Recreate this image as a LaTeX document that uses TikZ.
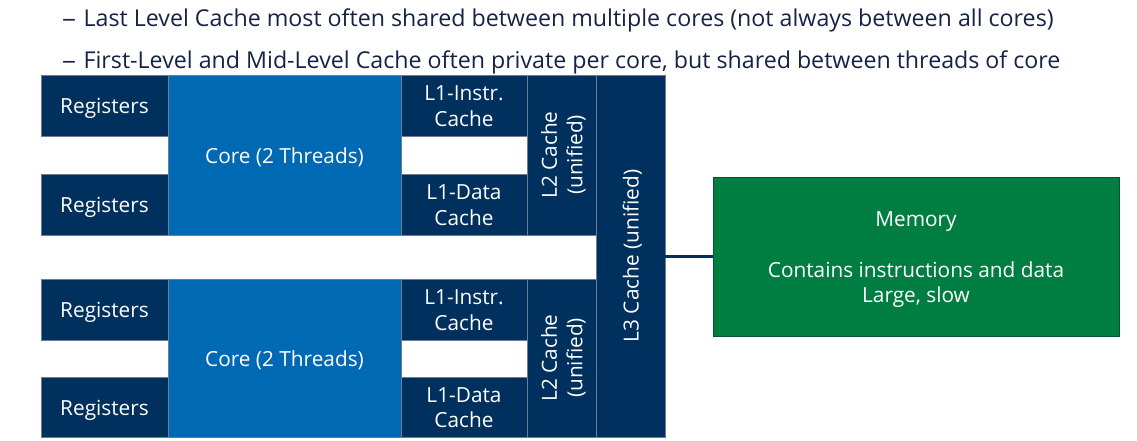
\documentclass[tikz,border=0pt]{standalone}
\usepackage{fontspec}
\setmainfont{Open Sans}
\usepackage{graphicx}
\definecolor{navy}{RGB}{0,48,94}
\definecolor{coreblue}{RGB}{0,105,180}
\definecolor{memgreen}{RGB}{0,125,64}
\definecolor{edge}{RGB}{110,125,150}
\definecolor{toptext}{RGB}{20,35,70}
\newcommand{\boxfont}{\fontsize{20.8}{25.5}\selectfont}
\newcommand{\btxt}[1]{\raisebox{-3pt}[\height][\depth]{\begin{tabular}{@{}c@{}}#1\end{tabular}}}
\begin{document}
\begin{tikzpicture}[x=1pt,y=-1pt,
  blk/.style={draw=edge, line width=0.8pt, inner sep=0pt, outer sep=0pt,
    anchor=north west, text=white, align=center, font=\boxfont},
  darkblk/.style={blk, fill=navy},
  coreblk/.style={blk, fill=coreblue},
  memblk/.style={blk, fill=memgreen, draw=memgreen!70!black},
  bullet/.style={anchor=base west, inner sep=0pt, text=toptext, font=\fontsize{23.2}{28}\selectfont}]
\useasboundingbox (0,0) rectangle (1137,440);
\node[bullet] (t1) at (62,26) {\scalebox{1.2}[1]{–}\hspace{1.5pt} Last Level Cache most often shared between multiple cores (not always between all cores)};
\node[bullet] (t2) at (62,68) {\scalebox{1.2}[1]{–}\hspace{1.5pt} First-Level and Mid-Level Cache often private per core, but shared between threads of core};
% top core group
\node[coreblk, minimum width=233, minimum height=160] (core1) at (168,75) {\btxt{Core (2 Threads)}};
\node[darkblk, minimum width=127, minimum height=61] (reg1) at (41,75) {\btxt{Registers}};
\node[darkblk, minimum width=127, minimum height=61] (reg2) at (41,174) {\btxt{Registers}};
\node[darkblk, minimum width=126, minimum height=61] (l1i1) at (401,75) {\btxt{L1-Instr.\\Cache}};
\node[darkblk, minimum width=126, minimum height=61] (l1d1) at (401,174) {\btxt{L1-Data\\Cache}};
\node[darkblk, minimum width=69, minimum height=160] (l2a) at (527,75) {\rotatebox{90}{\btxt{L2 Cache\\(unified)}}};
% bottom core group
\node[coreblk, minimum width=233, minimum height=158] (core2) at (168,279) {\btxt{Core (2 Threads)}};
\node[darkblk, minimum width=127, minimum height=61] (reg3) at (41,279) {\btxt{Registers}};
\node[darkblk, minimum width=127, minimum height=60] (reg4) at (41,377) {\btxt{Registers}};
\node[darkblk, minimum width=126, minimum height=61] (l1i2) at (401,279) {\btxt{L1-Instr.\\Cache}};
\node[darkblk, minimum width=126, minimum height=60] (l1d2) at (401,377) {\btxt{L1-Data\\Cache}};
\node[darkblk, minimum width=69, minimum height=158] (l2b) at (527,279) {\rotatebox{90}{\btxt{L2 Cache\\(unified)}}};
% L3
\node[darkblk, minimum width=69, minimum height=362] (l3) at (596,75) {\rotatebox{90}{\btxt{L3 Cache (unified)}}};
% memory
\node[memblk, minimum width=406, minimum height=159] (mem) at (713,177) {\btxt{Memory\\[25pt]Contains instructions and data\\Large, slow}};
\draw[navy, line width=3pt] (l3.east |- mem.west) -- (mem.west);
\end{tikzpicture}
\end{document}
